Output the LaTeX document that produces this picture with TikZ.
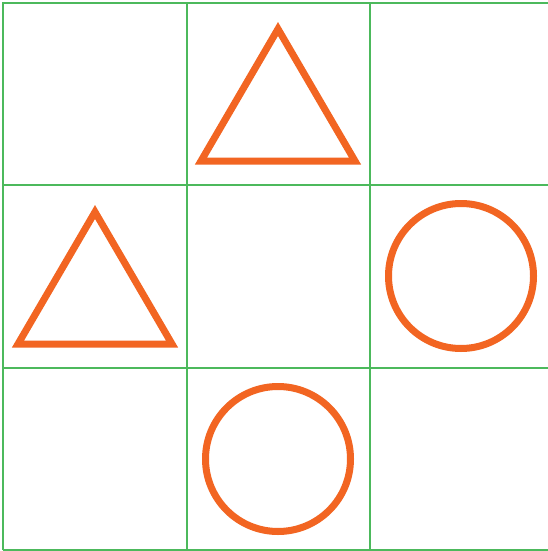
\documentclass[tikz,border=0pt]{standalone}
\definecolor{gridgreen}{RGB}{76,185,92}
\definecolor{shapeorange}{RGB}{242,101,34}
\tikzset{
  gridline/.style={draw=gridgreen, line width=1.4pt},
  outerline/.style={draw=gridgreen, line width=2pt},
  tri/.style={draw=shapeorange, line width=7pt, line join=miter},
  circ/.style={draw=shapeorange, line width=7pt}
}
\begin{document}
\begin{tikzpicture}[x=1pt,y=-1pt]
\useasboundingbox (0,0) rectangle (548,551);
\fill[white] (0,0) rectangle (548,551);
% grid
\draw[gridline] (187,3) -- (187,550);
\draw[gridline] (370,3) -- (370,550);
\draw[gridline] (3,185) -- (548,185);
\draw[gridline] (3,368) -- (548,368);
\draw[outerline] (3,550) -- (3,3) -- (549,3);
\draw[outerline] (3,550) -- (549,550);
% shapes
\draw[tri] (278,29) -- (355,161) -- (201,161) -- cycle;
\draw[tri] (95,212) -- (172,344) -- (18,344) -- cycle;
\draw[circ] (461,276) circle (72.5);
\draw[circ] (278,459) circle (72.5);
\end{tikzpicture}
\end{document}
